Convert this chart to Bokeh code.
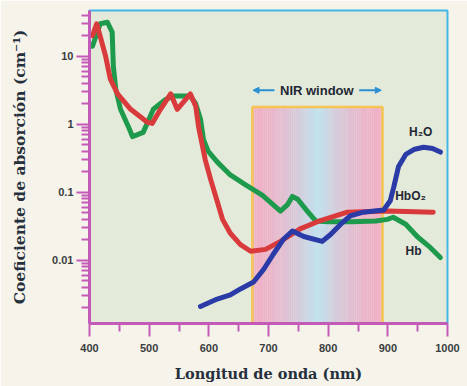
import numpy as np
from bokeh.plotting import figure
from bokeh.models import FixedTicker, CustomJSTickFormatter, Arrow, NormalHead, Label
from bokeh.embed import file_html
from bokeh.resources import INLINE

# ---- data ----
hb_nm = [405, 418, 430, 438, 440, 444, 452, 465, 472, 490, 507, 527, 541, 569, 578, 586, 591, 599,
         614, 636, 661, 690, 720, 732, 740, 749, 765, 779, 800, 840, 880, 899, 909, 930, 950, 971, 988]
hb_val = [14, 30, 31.6, 22.6, 7.1, 3.3, 1.66, 0.93, 0.66, 0.76, 1.66, 2.3, 2.6, 2.6, 2.0, 1.2, 0.6, 0.4,
          0.28, 0.18, 0.13, 0.09, 0.053, 0.066, 0.087, 0.079, 0.053, 0.038, 0.037, 0.037, 0.038, 0.04,
          0.043, 0.034, 0.022, 0.0155, 0.011]

hbo2_nm = [405, 412, 418, 427, 435, 447, 469, 497, 505, 519, 536, 547, 557, 569, 578, 583, 594, 603,
           613, 623, 636, 653, 670, 695, 720, 753, 782, 832, 899, 976]
hbo2_val = [20, 30, 19.6, 10, 4.6, 2.8, 1.66, 1.07, 1.03, 1.66, 2.8, 1.66, 2.1, 2.8, 1.84, 0.9, 0.3,
            0.155, 0.079, 0.04, 0.025, 0.017, 0.0136, 0.0145, 0.019, 0.029, 0.037, 0.051, 0.053, 0.051]

h2o_nm = [586, 614, 636, 653, 675, 692, 708, 725, 740, 759, 790, 804, 821, 837, 859, 893, 904, 910,
          918, 930, 945, 960, 975, 988]
h2o_val = [0.0021, 0.0027, 0.0031, 0.0038, 0.0048, 0.0074, 0.0123, 0.0204, 0.027, 0.0224, 0.019, 0.024,
           0.034, 0.045, 0.051, 0.055, 0.075, 0.12, 0.24, 0.36, 0.43, 0.46, 0.44, 0.39]

nir_window = [673, 891]   # nm
nir_top = 1.8

x_ticks = [400, 500, 600, 700, 800, 900, 1000]
x_minor = [450, 550, 650, 750, 850, 950]
y_ticks = [0.01, 0.1, 1, 10]

Y_MIN, Y_MAX = 0.00118, 47

# ---- figure ----
p = figure(width=467, height=386, y_axis_type="log", x_range=(400, 1000), y_range=(Y_MIN, Y_MAX),
           output_backend="svg", toolbar_location=None,
           min_border_left=89, min_border_right=20, min_border_top=10, min_border_bottom=63)

p.background_fill_color = "#e4eada"
p.border_fill_color = "#f6f4ea"
p.outline_line_color = "#42b6e6"
p.outline_line_width = 2
p.xgrid.visible = False
p.ygrid.visible = False

# NIR window gradient
n = 60
edges = np.linspace(nir_window[0], nir_window[1], n + 1)
pink = np.array([241, 176, 198])
blue = np.array([190, 226, 240])
cols = []
for i in range(n):
    t = (i + 0.5) / n
    w = 1 - abs(2 * t - 1)       # 0 at edges, 1 at centre
    w = w ** 1.7
    c = pink * (1 - w) + blue * w
    cols.append("#%02x%02x%02x" % tuple(int(v) for v in c))
p.quad(left=edges[:-1], right=edges[1:], bottom=Y_MIN, top=nir_top, fill_color=cols, line_color=None)
p.quad(left=[nir_window[0]], right=[nir_window[1]], bottom=[Y_MIN], top=[nir_top],
       fill_color=None, line_color="#f6c452", line_width=2.5)

# curves
p.line(hb_nm, hb_val, line_color="#1e9a4c", line_width=5, line_join="round", line_cap="round")
p.line(hbo2_nm, hbo2_val, line_color="#d93a3c", line_width=5, line_join="round", line_cap="round")
p.line(h2o_nm, h2o_val, line_color="#2a3aa6", line_width=5, line_join="round", line_cap="round")

# labels
lab = dict(text_font="Liberation Sans", text_font_style="bold", text_font_size="12px",
           text_color="#1f2833", text_align="center", text_baseline="middle")
p.add_layout(Label(x=955, y=0.76, text="H₂O", **lab))
p.add_layout(Label(x=938, y=0.087, text="HbO₂", **lab))
p.add_layout(Label(x=943, y=0.0136, text="Hb", **lab))
p.add_layout(Label(x=781, y=3.16, text="NIR window", text_font="Liberation Sans", text_font_style="bold",
                   text_font_size="13px", text_color="#1f2833", text_align="center", text_baseline="middle"))
for xs, xe in [(710, 674), (852, 889)]:
    p.add_layout(Arrow(end=NormalHead(size=6, fill_color="#2a90d2", line_color="#2a90d2"),
                       x_start=xs, y_start=3.16, x_end=xe, y_end=3.16,
                       line_color="#2a90d2", line_width=2))

# axes
magenta = "#c45ab8"
for ax in (p.xaxis[0], p.yaxis[0]):
    ax.axis_line_color = magenta
    ax.axis_line_width = 3
    ax.major_tick_line_color = magenta
    ax.minor_tick_line_color = magenta
    ax.major_tick_line_width = 2
    ax.minor_tick_line_width = 2
    ax.major_tick_out = 13
    ax.major_tick_in = 0
    ax.minor_tick_out = 8
    ax.minor_tick_in = 0
    ax.major_label_text_font = "Liberation Sans"
    ax.major_label_text_font_style = "bold"
    ax.major_label_text_font_size = "11px"
    ax.major_label_text_color = "#3a3d40"
    ax.axis_label_text_font = "DejaVu Serif"
    ax.axis_label_text_font_style = "bold"
    ax.axis_label_text_color = "#26303c"

y_minor = [m * 10.0 ** e for e in range(-3, 2) for m in range(2, 10)]
p.xaxis.ticker = FixedTicker(ticks=x_ticks, minor_ticks=x_minor)
p.yaxis.ticker = FixedTicker(ticks=y_ticks, minor_ticks=y_minor)
p.yaxis.formatter = CustomJSTickFormatter(code="return tick.toString();")
p.xaxis.major_label_standoff = 7
p.yaxis.major_label_standoff = 3
p.xaxis.axis_label = "Longitud de onda (nm)"
p.yaxis.axis_label = "Coeficiente de absorción (cm⁻¹)"
p.xaxis.axis_label_text_font_size = "14.5px"
p.yaxis.axis_label_text_font_size = "15.5px"
p.xaxis.axis_label_standoff = 10
p.yaxis.axis_label_standoff = 20

open("out.html", "w").write(file_html(p, INLINE))
